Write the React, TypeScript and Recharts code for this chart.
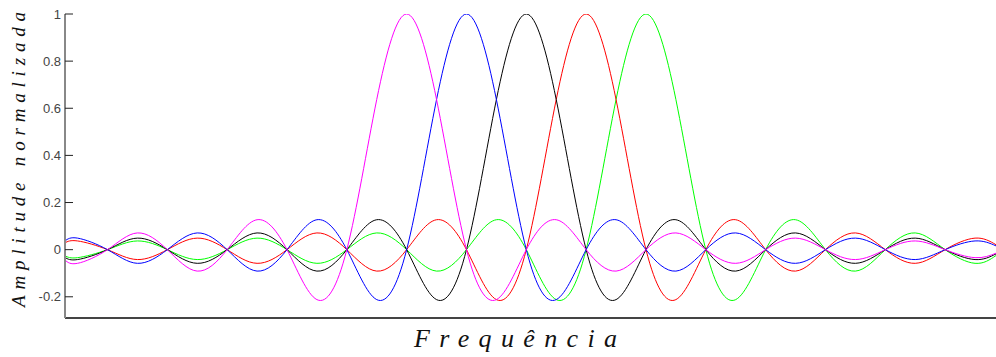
import { LineChart, Line, XAxis, YAxis } from 'recharts'

// frequency positions (in subcarrier spacings, black carrier at 0)
const freq = [
  -7.71, -7.5, -7, -6.5, -6, -5.5, -5, -4.5, -4, -3.5, -3, -2.5, -2, -1.5, -1, -0.5,
  0, 0.5, 1, 1.5, 2, 2.5, 3, 3.5, 4, 4.5, 5, 5.5, 6, 6.5, 7, 7.5, 7.85,
]

const magenta = [
  -0.044, -0.058, 0, 0.071, 0, -0.091, 0, 0.127, 0, -0.212, 0, 0.637, 1, 0.637, 0, -0.212,
  0, 0.127, 0, -0.091, 0, 0.071, 0, -0.058, 0, 0.049, 0, -0.042, 0, 0.037, 0, -0.034, -0.015,
]
const blue = [
  0.037, 0.049, 0, -0.058, 0, 0.071, 0, -0.091, 0, 0.127, 0, -0.212, 0, 0.637, 1, 0.637,
  0, -0.212, 0, 0.127, 0, -0.091, 0, 0.071, 0, -0.058, 0, 0.049, 0, -0.042, 0, 0.037, 0.016,
]
const black = [
  -0.033, -0.042, 0, 0.049, 0, -0.058, 0, 0.071, 0, -0.091, 0, 0.127, 0, -0.212, 0, 0.637,
  1, 0.637, 0, -0.212, 0, 0.127, 0, -0.091, 0, 0.071, 0, -0.058, 0, 0.049, 0, -0.042, -0.018,
]
const red = [
  0.029, 0.037, 0, -0.042, 0, 0.049, 0, -0.058, 0, 0.071, 0, -0.091, 0, 0.127, 0, -0.212,
  0, 0.637, 1, 0.637, 0, -0.212, 0, 0.127, 0, -0.091, 0, 0.071, 0, -0.058, 0, 0.049, 0.021,
]
const green = [
  -0.026, -0.034, 0, 0.037, 0, -0.042, 0, 0.049, 0, -0.058, 0, 0.071, 0, -0.091, 0, 0.127,
  0, -0.212, 0, 0.637, 1, 0.637, 0, -0.212, 0, 0.127, 0, -0.091, 0, 0.071, 0, -0.058, -0.025,
]

const yTicks = [-0.2, 0, 0.2, 0.4, 0.6, 0.8, 1]

const series = [
  { key: 'green', color: '#00ff00' },
  { key: 'red', color: '#ff0000' },
  { key: 'black', color: '#000000' },
  { key: 'blue', color: '#0000ff' },
  { key: 'magenta', color: '#ff00ff' },
]

const data = freq.map((f, i) => ({
  f,
  magenta: magenta[i],
  blue: blue[i],
  black: black[i],
  red: red[i],
  green: green[i],
}))

function YTick({ x, y, payload }: any) {
  return (
    <g>
      <line x1={x} y1={y} x2={x + 8} y2={y} stroke="#222" strokeWidth={1} />
      <text x={x - 4} y={y} dy={4.5} textAnchor="end" fontSize={13} fill="#444" fontFamily="'Liberation Sans', Arial, sans-serif">
        {String(payload.value)}
      </text>
    </g>
  )
}

export default function App() {
  return (
    <div style={{ position: 'absolute', left: 0, top: 0, width: 996, height: 357, background: '#fff' }}>
      <LineChart width={996} height={357} data={data} margin={{ top: 14, right: 0, bottom: 29, left: 0 }}>
        <XAxis
          dataKey="f"
          type="number"
          domain={[-7.71, 7.85]}
          allowDataOverflow
          tick={false}
          tickLine={false}
          height={10}
          axisLine={{ stroke: '#444', strokeWidth: 2 }}
        />
        <YAxis
          type="number"
          domain={[-0.29, 1]}
          ticks={yTicks}
          allowDataOverflow
          width={65}
          tickSize={0}
          tickMargin={0}
          tickLine={false}
          tick={<YTick />}
          axisLine={{ stroke: '#888', strokeWidth: 2 }}
        />
        {series.map(s => (
          <Line
            key={s.key}
            dataKey={s.key}
            type="natural"
            stroke={s.color}
            strokeWidth={1}
            dot={false}
            activeDot={false}
            isAnimationActive={false}
          />
        ))}
      </LineChart>
      <svg width={996} height={357} style={{ position: 'absolute', left: 0, top: 0, pointerEvents: 'none' }}>
        <text
          x={25}
          y={307}
          transform="rotate(-90 25 307)"
          fontFamily="'Liberation Serif', 'Times New Roman', serif"
          fontStyle="italic"
          fontSize={19}
          textLength={295}
          lengthAdjust="spacing"
          fill="#111"
        >
          Amplitude normalizada
        </text>
        <text
          x={414}
          y={347}
          fontFamily="'Liberation Serif', 'Times New Roman', serif"
          fontStyle="italic"
          fontSize={26}
          textLength={203}
          lengthAdjust="spacing"
          fill="#111"
        >
          Frequência
        </text>
      </svg>
    </div>
  )
}
